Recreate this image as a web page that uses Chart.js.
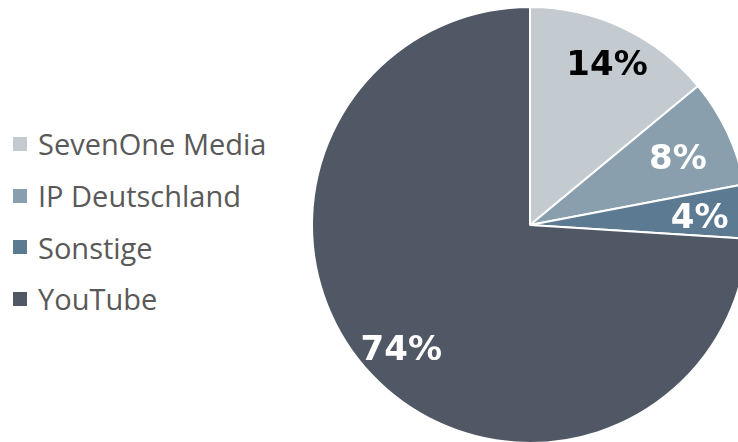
<!DOCTYPE html>
<html>
<head>
<meta charset="utf-8">
<script src="https://cdn.jsdelivr.net/npm/chart.js@4"></script>
<style>
  html, body { margin: 0; padding: 0; background: #fff; overflow: hidden; width: 738px; height: 442px; }
  #legend { position: absolute; left: 13px; top: 118px; font-family: "Open Sans", sans-serif; font-size: 29px; color: #595959; }
  #legend div { height: 51.7px; display: flex; align-items: center; }
  #legend span.box { display: inline-block; width: 14px; height: 14px; margin-right: 11px; }
  #wrap { position: absolute; left: 311px; top: 6px; width: 438px; height: 438px; }
</style>
</head>
<body>
<div id="legend"></div>
<div id="wrap"><canvas id="pie"></canvas></div>
<script>
const categories = ["SevenOne Media", "IP Deutschland", "Sonstige", "YouTube"];
const shares = [14, 8, 4, 74];
const colors = ["#c3cbd0", "#8a9fad", "#5d7a93", "#515865"];
const labelColors = ["#000000", "#ffffff", "#ffffff", "#ffffff"];
const labelRadius = [0.83, 0.75, 0.78, 0.81];

// HTML legend, left of the pie
const legend = document.getElementById("legend");
categories.forEach((name, i) => {
  const row = document.createElement("div");
  row.innerHTML = `<span class="box" style="background:${colors[i]}"></span>${name}`;
  legend.appendChild(row);
});

// percent labels inside the slices
const sliceLabels = {
  id: "sliceLabels",
  afterDatasetsDraw(chart) {
    const ctx = chart.ctx;
    const meta = chart.getDatasetMeta(0);
    ctx.save();
    ctx.font = "bold 34px 'DejaVu Sans', sans-serif";
    ctx.textAlign = "center";
    ctx.textBaseline = "middle";
    meta.data.forEach((arc, i) => {
      const p = arc.getProps(["x", "y", "startAngle", "endAngle", "outerRadius"], true);
      const mid = (p.startAngle + p.endAngle) / 2;
      const r = p.outerRadius * labelRadius[i];
      ctx.fillStyle = labelColors[i];
      ctx.fillText(shares[i] + "%", p.x + Math.cos(mid) * r, p.y + Math.sin(mid) * r + 5);
    });
    ctx.restore();
  },
};

new Chart(document.getElementById("pie"), {
  type: "pie",
  data: {
    labels: categories,
    datasets: [{
      data: shares,
      backgroundColor: colors,
      borderColor: "#ffffff",
      borderWidth: 2,
    }],
  },
  options: {
    responsive: true,
    maintainAspectRatio: false,
    animation: false,
    layout: { padding: 0 },
    plugins: {
      legend: { display: false },
      tooltip: { enabled: false },
    },
  },
  plugins: [sliceLabels],
});
</script>
</body>
</html>
